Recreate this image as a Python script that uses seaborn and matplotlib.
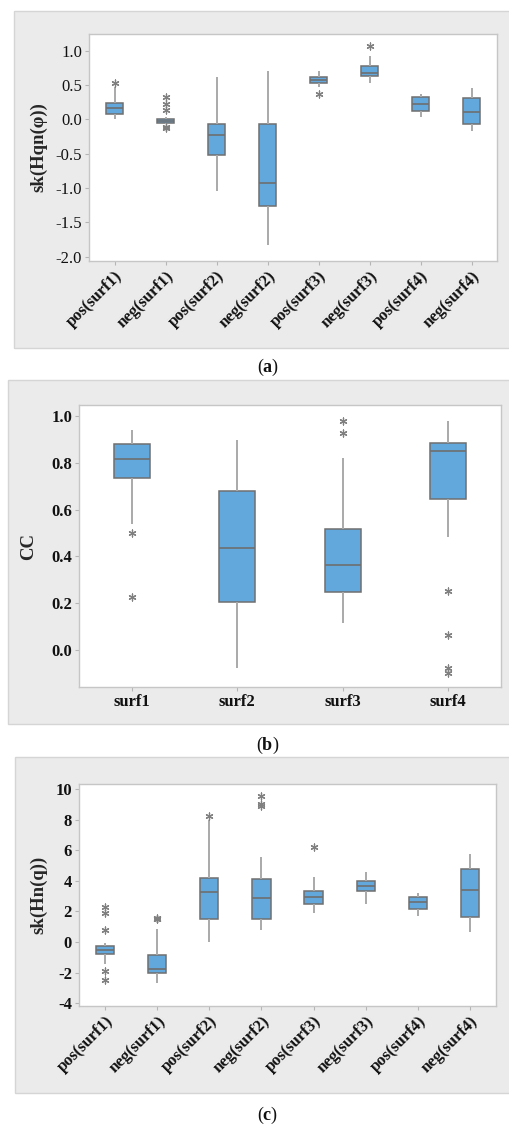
import numpy as np
import pandas as pd
import matplotlib
matplotlib.use("Agg")
import matplotlib.pyplot as plt
from matplotlib.patches import Rectangle
from matplotlib import font_manager
import seaborn as sns

# ---------------- data ----------------
# five-number summaries per group: whisker low, Q1, median, Q3, whisker high
groups8 = ["pos(surf1)", "neg(surf1)", "pos(surf2)", "neg(surf2)",
           "pos(surf3)", "neg(surf3)", "pos(surf4)", "neg(surf4)"]
groups4 = ["surf1", "surf2", "surf3", "surf4"]

# (a) sk(Hqn(phi))
a_lo  = [0.00, -0.07, -1.04, -1.835, 0.466, 0.529, 0.039, -0.165]
a_q1  = [0.073, -0.05, -0.524, -1.257, 0.524, 0.626, 0.126, -0.068]
a_med = [0.17, -0.02, -0.228, -0.922, 0.573, 0.675, 0.218, 0.102]
a_q3  = [0.243, 0.00, -0.063, -0.073, 0.617, 0.772, 0.32, 0.306]
a_hi  = [0.475, 0.03, 0.61, 0.709, 0.709, 0.922, 0.374, 0.451]
a_out_grp = ["pos(surf1)", "neg(surf1)", "neg(surf1)", "neg(surf1)",
             "neg(surf1)", "neg(surf1)", "pos(surf3)", "neg(surf3)"]
a_out_val = [0.524, 0.33, 0.23, 0.136, -0.11, -0.125, 0.374, 1.068]

# (b) CC
b_lo  = [0.538, -0.075, 0.117, 0.484]
b_q1  = [0.735, 0.206, 0.246, 0.647]
b_med = [0.818, 0.438, 0.364, 0.851]
b_q3  = [0.879, 0.68, 0.518, 0.885]
b_hi  = [0.942, 0.899, 0.822, 0.979]
b_out_grp = ["surf1", "surf1", "surf3", "surf3",
             "surf4", "surf4", "surf4", "surf4"]
b_out_val = [0.498, 0.225, 0.977, 0.927, 0.252, 0.064, -0.075, -0.097]

# (c) sk(Hn(q))
c_lo  = [-1.43, -2.70, 0.02, 0.77, 1.93, 2.46, 1.69, 0.68]
c_q1  = [-0.81, -2.00, 1.49, 1.49, 2.48, 3.31, 2.15, 1.64]
c_med = [-0.53, -1.78, 3.27, 2.85, 2.94, 3.66, 2.63, 3.38]
c_q3  = [-0.26, -0.83, 4.21, 4.12, 3.31, 4.01, 2.92, 4.76]
c_hi  = [-0.04, 0.83, 7.96, 5.55, 4.28, 4.58, 3.18, 5.77]
c_out_grp = ["pos(surf1)", "pos(surf1)", "pos(surf1)", "pos(surf1)", "pos(surf1)",
             "neg(surf1)", "neg(surf1)", "neg(surf1)",
             "pos(surf2)", "neg(surf2)", "neg(surf2)", "neg(surf2)", "pos(surf3)"]
c_out_val = [2.32, 1.91, 0.77, -1.86, -2.46,
             1.60, 1.52, 1.49,
             8.27, 9.54, 9.01, 8.92, 6.18]

# ---------------- style ----------------
sns.set_theme(style="white")
SERIF = ["Liberation Serif", "Times New Roman", "DejaVu Serif"]
plt.rcParams["font.family"] = "serif"
plt.rcParams["font.serif"] = SERIF
plt.rcParams["axes.unicode_minus"] = False
plt.rcParams["mathtext.fontset"] = "custom"
plt.rcParams["mathtext.rm"] = "Liberation Serif"
plt.rcParams["mathtext.bf"] = "Liberation Serif:bold"

BOX_FILL = "#63a8dc"
BOX_EDGE = "#6f6f6f"
WHISKER = "#a9a9a9"
STAR = "#808080"
PANEL = "#ebebeb"
PANEL_EDGE = "#d5d5d5"
SPINE = "#c6c6c6"
TXT = "#111111"

W, H = 509, 1127
fig = plt.figure(figsize=(W / 100, H / 100), dpi=100)
fig.patch.set_facecolor("white")


def fp(size, bold=False):
    return font_manager.FontProperties(family=SERIF, size=size,
                                       weight="bold" if bold else "normal")


def px_axes(left, top, right, bottom):
    return fig.add_axes([left / W, (H - bottom) / H, (right - left) / W, (bottom - top) / H])


def panel(left, top, right, bottom):
    fig.patches.append(Rectangle((left / W, (H - bottom) / H), (right - left) / W,
                                 (bottom - top) / H, transform=fig.transFigure,
                                 facecolor=PANEL, edgecolor=PANEL_EDGE, linewidth=1,
                                 zorder=-10))


def summary_frame(order, lo, q1, med, q3, hi):
    rows = []
    for g, *vals in zip(order, lo, q1, med, q3, hi):
        for v in vals:
            rows.append((g, v))
    return pd.DataFrame(rows, columns=["group", "value"])


def draw(ax, order, lo, q1, med, q3, hi, out_grp, out_val, width):
    df = summary_frame(order, lo, q1, med, q3, hi)
    sns.boxplot(data=df, x="group", y="value", order=order, ax=ax,
                whis=np.inf, showfliers=False, showcaps=False, width=width,
                color=BOX_FILL, saturation=1, linecolor=BOX_EDGE, linewidth=1.1,
                whiskerprops=dict(color=WHISKER, linewidth=1.4),
                medianprops=dict(color=BOX_EDGE, linewidth=1.2))
    outs = pd.DataFrame({"group": out_grp, "value": out_val})
    sns.stripplot(data=outs, x="group", y="value", order=order, ax=ax,
                  jitter=False, marker=(6, 2, 0), size=5, color=STAR,
                  edgecolor=STAR, linewidth=0.9, zorder=5)
    ax.set_facecolor("white")
    for s in ax.spines.values():
        s.set_color(SPINE)
        s.set_linewidth(1.0)
    ax.tick_params(axis="both", which="major", length=3, width=0.8,
                   color="#b5b5b5", pad=2, bottom=True, left=True)
    ax.set_xlim(-0.5, len(order) - 0.5)
    ax.set_xlabel("")


def style_ticks(ax, yticks, ylabels, xlabels, ybold, rotate):
    ax.set_yticks(yticks)
    ax.set_yticklabels(ylabels, fontproperties=fp(12, ybold), color=TXT)
    ax.set_xticks(range(len(xlabels)))
    if rotate:
        ax.set_xticklabels(xlabels, rotation=45, ha="right", rotation_mode="anchor",
                           fontproperties=fp(12, True), color=TXT)
    else:
        ax.set_xticklabels(xlabels, fontproperties=fp(12, True), color=TXT)


# panel backgrounds
panel(14, 11, 512, 348)
panel(8, 380, 512, 724)
panel(15, 757, 512, 1093)

# ---- (a) ----
ax_a = px_axes(89, 34, 497, 261)
draw(ax_a, groups8, a_lo, a_q1, a_med, a_q3, a_hi, a_out_grp, a_out_val, 0.35)
ax_a.set_ylim(-2.063, 1.243)
ticks_a = [1.0, 0.5, 0.0, -0.5, -1.0, -1.5, -2.0]
style_ticks(ax_a, ticks_a, [f"{v:.1f}" for v in ticks_a], groups8, False, True)
ax_a.set_ylabel("sk(Hqn(φ))", fontproperties=fp(13.5, True), labelpad=6)

# ---- (b) ----
ax_b = px_axes(79, 405, 501, 687)
draw(ax_b, groups4, b_lo, b_q1, b_med, b_q3, b_hi, b_out_grp, b_out_val, 0.34)
ax_b.set_ylim(-0.158, 1.047)
ticks_b = [1.0, 0.8, 0.6, 0.4, 0.2, 0.0]
style_ticks(ax_b, ticks_b, [f"{v:.1f}" for v in ticks_b], groups4, True, False)
ax_b.set_ylabel("CC", fontproperties=fp(13.5, True), labelpad=10)

# ---- (c) ----
ax_c = px_axes(79, 784, 496, 1006)
draw(ax_c, groups8, c_lo, c_q1, c_med, c_q3, c_hi, c_out_grp, c_out_val, 0.35)
ax_c.set_ylim(-4.18, 10.33)
ticks_c = [10, 8, 6, 4, 2, 0, -2, -4]
style_ticks(ax_c, ticks_c, [str(v) for v in ticks_c], groups8, True, True)
ax_c.set_ylabel("sk(Hn(q))", fontproperties=fp(13.5, True), labelpad=6)

# panel captions
for label, y in [("a", 367), ("b", 745), ("c", 1115)]:
    fig.text(268 / W, (H - y) / H, r"$(\mathbf{" + label + r"})$", ha="center",
             va="center", fontsize=13, color=TXT)

fig.savefig("out.png", dpi=100)
